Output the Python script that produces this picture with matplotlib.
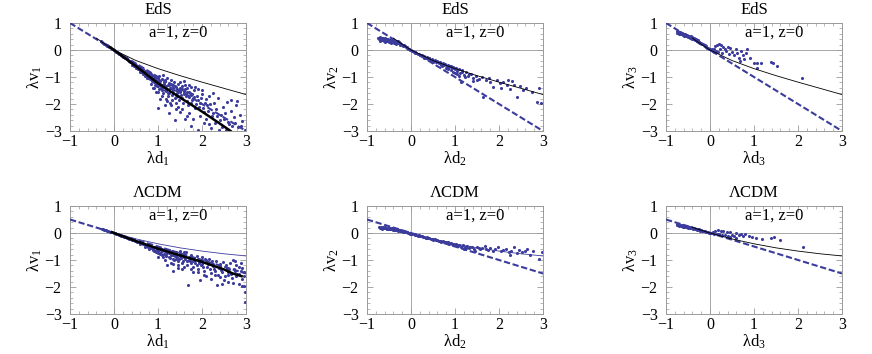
import numpy as np
import matplotlib
matplotlib.use("Agg")
import matplotlib.pyplot as plt
from matplotlib.ticker import MultipleLocator

plt.rcParams['font.family'] = ['Liberation Serif', 'DejaVu Serif']
plt.rcParams['mathtext.fontset'] = 'custom'
plt.rcParams['mathtext.rm'] = 'Liberation Serif'
plt.rcParams['mathtext.it'] = 'Liberation Serif:italic'

# ---------------- data ----------------
titles = ["EdS", "EdS", "EdS", "ΛCDM", "ΛCDM", "ΛCDM"]
xlabels = ["λd$_1$", "λd$_2$", "λd$_3$", "λd$_1$", "λd$_2$", "λd$_3$"]
ylabels = ["λv$_1$", "λv$_2$", "λv$_3$", "λv$_1$", "λv$_2$", "λv$_3$"]
annotation = "a=1, z=0"
ticks = [-1, 0, 1, 2, 3]
yticks = [-3, -2, -1, 0, 1]

dash_x = [-1, 3]
eds_dash_y = [1, -3]
lcdm_dash_y = [0.5, -1.5]

thin_x = [-0.4, -0.2, 0, 0.5, 1, 1.5, 2, 2.5, 3]
eds_thin_y = [0.44, 0.21, 0, -0.39, -0.69, -0.95, -1.19, -1.42, -1.65]
lcdm_thin_y = [0.21, 0.10, 0, -0.22, -0.40, -0.55, -0.67, -0.77, -0.85]

eds_thick_x = [-0.1, 0, 0.5, 1, 1.5, 2, 2.5, 2.65]
eds_thick_y = [0.11, 0, -0.6, -1.23, -1.76, -2.28, -2.83, -3.0]
lcdm_thick_x = [-0.05, 0, 0.5, 1, 1.5, 2, 2.5, 2.7, 2.9]
lcdm_thick_y = [0.03, 0, -0.30, -0.58, -0.83, -1.07, -1.35, -1.50, -1.60]

eds1 = [
 (-0.30,0.32),(-0.27,0.29),(-0.25,0.27),(-0.23,0.24),(-0.21,0.23),(-0.19,0.20),(-0.17,0.18),(-0.15,0.16),(-0.13,0.14),(-0.11,0.12),(-0.09,0.10),(-0.07,0.07),(-0.05,0.05),(-0.03,0.03),(-0.01,0.01),
 (0.01,-0.01),(0.03,-0.04),(0.05,-0.06),(0.07,-0.08),(0.09,-0.10),(0.11,-0.13),(0.13,-0.15),(0.15,-0.17),(0.17,-0.20),(0.19,-0.22),(0.21,-0.25),(0.23,-0.26),(0.25,-0.30),(0.27,-0.31),(0.29,-0.35),(0.31,-0.36),(0.33,-0.40),(0.35,-0.40),(0.37,-0.45),(0.39,-0.44),(0.41,-0.50),(0.43,-0.49),(0.45,-0.55),(0.47,-0.53),(0.49,-0.60),(0.51,-0.57),(0.53,-0.65),(0.55,-0.61),(0.57,-0.70),(0.59,-0.64),(0.61,-0.76),(0.63,-0.68),(0.65,-0.80),(0.67,-0.72),(0.69,-0.86),(0.71,-0.76),(0.73,-0.90),(0.75,-0.80),(0.77,-0.96),(0.79,-0.84),(0.81,-1.02),(0.83,-0.88),(0.85,-1.08),(0.87,-0.92),(0.89,-1.12),(0.91,-0.96),(0.93,-1.20),(0.95,-1.00),(0.97,-1.25),(0.99,-1.05),(1.01,-1.32),(1.03,-0.98),(1.05,-1.15),(1.07,-1.40),(1.09,-1.08),(1.11,-0.93),(1.13,-1.25),(1.15,-1.50),(1.17,-1.12),(1.19,-1.35),(1.21,-1.02),(1.23,-1.58),(1.25,-1.22),(1.27,-1.42),(1.29,-1.10),(1.31,-1.68),(1.33,-1.30),(1.35,-1.50),(1.37,-1.18),(1.39,-1.78),(1.41,-1.38),(1.43,-1.58),(1.45,-1.25),(1.47,-1.85),(1.49,-1.45),(1.51,-1.18),(1.53,-1.65),(1.55,-1.35),(1.57,-1.95),(1.59,-1.52),(1.61,-1.28),(1.63,-1.72),(1.66,-1.42),(1.69,-2.05),(1.72,-1.60),(1.75,-1.38),(1.78,-1.85),(1.81,-1.50),(1.84,-2.15),(1.88,-1.70),(1.92,-1.45),(1.96,-1.95),(2.00,-1.62),(2.04,-2.30),(2.08,-1.80),(2.12,-2.05),(2.17,-1.70),(2.22,-2.45),(2.27,-1.95),(2.32,-2.20),(2.37,-1.78),(2.42,-2.60),(2.47,-2.10),(2.52,-2.35),(2.57,-1.92),(2.62,-2.75),(2.67,-2.25),(2.72,-2.50),(2.77,-2.05),(2.82,-2.85),(2.87,-2.40),(2.92,-2.62),(2.97,-2.95),(2.80,-1.90),(2.65,-1.85),
 (0.95,-1.55),(1.05,-1.80),(1.15,-2.05),(1.25,-2.35),(1.38,-2.60),(1.50,-2.30),(1.62,-2.55),(1.75,-2.80),(1.90,-2.95),(2.05,-2.70),(2.20,-2.90),(2.38,-2.97),(1.00,-2.15),(1.20,-1.90),(0.88,-1.40),(1.30,-2.05),(1.45,-2.10),(1.70,-2.35),(2.10,-2.55),(2.30,-2.70),(2.55,-2.95),(1.58,-1.15),(1.70,-1.30),(1.85,-1.38),(2.00,-1.48),(2.25,-1.58),
 (0.80,-0.95),(0.85,-1.00),(0.90,-1.05),(0.95,-1.12),(1.00,-1.18),(1.05,-1.25),(1.10,-1.30),(1.15,-1.38),(1.20,-1.45),(1.25,-1.30),(1.30,-1.40),(1.35,-1.60),(1.40,-1.50),(1.45,-1.70),(1.50,-1.55),(1.55,-1.45),(1.60,-1.62),(1.65,-1.55),(1.70,-1.75),(1.75,-1.65),(0.75,-1.05),(0.70,-0.95),(0.65,-0.88),(0.60,-0.82),(1.02,-1.45),(1.12,-1.60),(1.22,-1.70),(1.32,-1.85),(1.42,-1.95),(0.98,-1.35),(1.08,-1.48),
 (0.42,-0.55),(0.46,-0.60),(0.50,-0.66),(0.54,-0.70),(0.58,-0.75),(0.62,-0.80),(0.66,-0.85),(0.70,-0.90),(0.74,-0.97),(0.78,-1.02),(0.82,-1.08),(0.86,-1.15),(0.90,-1.20),(0.94,-1.28),(0.98,-1.20),(1.02,-1.10),(1.06,-1.35),(1.10,-1.42),(1.14,-1.20),(1.18,-1.52),(1.22,-1.30),(1.26,-1.60),(1.30,-1.25),(1.34,-1.42),(1.38,-1.35),(1.42,-1.75),(1.46,-1.52),(1.50,-1.40),(1.54,-1.78),(1.58,-1.60),(1.62,-1.45),(1.66,-1.90),(1.70,-1.55),(1.74,-1.95),(1.78,-1.62),(1.82,-1.75),(1.86,-2.00),(1.90,-1.85),(1.94,-2.10),(1.98,-1.78),(2.02,-2.15),(2.06,-1.95),(2.14,-2.25),(2.18,-2.00),(2.26,-2.35),(2.34,-2.45),(2.44,-2.40),(2.50,-2.55),(2.58,-2.65),(2.68,-2.80),(2.74,-2.70),(2.88,-2.80),(0.85,-1.25),(0.92,-1.40),(1.00,-1.55),(1.10,-1.70),(1.18,-1.80),(1.28,-1.95),(1.40,-2.20),(1.55,-2.20),(1.65,-2.45),(1.80,-2.55),(1.95,-2.45),(2.15,-2.75),(2.45,-2.85)]

eds2 = [
 (-0.75,0.45),(-0.72,0.40),(-0.70,0.47),(-0.68,0.42),(-0.66,0.37),(-0.64,0.44),(-0.62,0.40),(-0.60,0.35),(-0.58,0.43),(-0.56,0.38),(-0.54,0.33),(-0.52,0.41),(-0.50,0.36),(-0.48,0.31),(-0.46,0.40),(-0.44,0.35),(-0.42,0.30),(-0.40,0.38),(-0.38,0.33),(-0.36,0.28),(-0.34,0.35),(-0.32,0.30),(-0.30,0.25),(-0.28,0.31),(-0.26,0.26),(-0.24,0.21),(-0.22,0.24),(-0.20,0.19),(-0.18,0.16),(-0.16,0.17),(-0.14,0.13),(-0.12,0.11),(-0.10,0.10),(-0.08,0.07),(-0.06,0.05),(-0.04,0.04),(-0.02,0.01),(0.00,-0.01),(0.02,-0.05),(0.04,-0.04),(0.06,-0.09),(0.08,-0.07),(0.10,-0.12),(0.12,-0.10),(0.15,-0.16),(0.18,-0.14),(0.21,-0.20),(0.24,-0.18),(0.27,-0.24),(0.30,-0.22),(0.33,-0.28),(0.36,-0.26),(0.39,-0.32),(0.42,-0.30),(0.45,-0.36),(0.48,-0.33),(0.51,-0.40),(0.54,-0.37),(0.57,-0.44),(0.60,-0.41),(0.63,-0.48),(0.66,-0.44),(0.69,-0.52),(0.72,-0.48),(0.75,-0.56),(0.78,-0.52),(0.81,-0.60),(0.84,-0.55),(0.87,-0.64),(0.90,-0.58),(0.93,-0.68),(0.96,-0.62),(0.99,-0.72),(1.02,-0.66),(1.05,-0.78),(1.08,-0.70),(1.12,-0.85),(1.16,-0.75),(1.20,-0.92),(1.25,-0.82),(1.30,-0.98),(1.36,-0.88),(1.42,-1.02),(1.48,-0.95),(1.55,-1.06),(1.62,-1.00),(1.70,-1.12),(1.78,-1.05),(1.87,-1.36),(1.95,-1.10),(2.02,-1.22),(2.10,-1.18),(2.18,-1.30),(2.25,-1.43),(2.30,-1.15),(2.35,-1.28),(2.40,-1.73),(2.48,-1.35),(2.55,-1.50),(2.62,-1.40),(1.64,-1.73),(1.13,-1.20),(0.95,-0.80),(1.40,-1.15),(2.86,-1.91),(2.95,-1.98),(2.90,-1.41),(2.75,-1.55),
 (-0.45,0.25),(-0.35,0.22),(-0.60,0.30),(0.30,-0.30),(0.50,-0.45),(0.70,-0.60),(0.85,-0.70),(1.00,-0.85),(1.10,-0.95),(2.20,-1.10),
 (-0.70,0.35),(-0.66,0.45),(-0.62,0.32),(-0.58,0.38),(-0.54,0.42),(-0.50,0.28),(-0.46,0.33),(-0.42,0.37),(-0.38,0.25),(-0.34,0.28),(-0.30,0.32),(-0.26,0.20),(0.10,-0.08),(0.20,-0.17),(0.25,-0.22),(0.35,-0.30),(0.40,-0.28),(0.55,-0.42),(0.62,-0.45),(0.68,-0.55),(0.74,-0.52),(0.80,-0.65),(0.88,-0.60),(0.92,-0.75),(0.98,-0.68),(1.04,-0.90),(1.15,-0.80),(1.22,-1.00),(1.32,-0.90),(1.50,-1.12),(1.80,-1.18),(2.05,-1.40)]

eds3 = [
 (-0.76,0.70),(-0.74,0.64),(-0.72,0.68),(-0.70,0.60),(-0.68,0.66),(-0.66,0.58),(-0.64,0.63),(-0.62,0.55),(-0.60,0.61),(-0.58,0.53),(-0.56,0.58),(-0.54,0.50),(-0.52,0.56),(-0.50,0.48),(-0.48,0.53),(-0.46,0.45),(-0.44,0.50),(-0.42,0.42),(-0.40,0.47),(-0.38,0.39),(-0.36,0.43),(-0.34,0.36),(-0.32,0.40),(-0.30,0.33),(-0.28,0.36),(-0.26,0.29),(-0.24,0.31),(-0.22,0.26),(-0.20,0.27),(-0.18,0.21),(-0.16,0.22),(-0.14,0.17),(-0.12,0.18),(-0.10,0.13),(-0.08,0.12),(-0.06,0.08),(-0.04,0.07),(-0.02,0.03),(0.00,0.02),(0.02,-0.01),(0.04,0.02),(0.06,-0.04),(0.08,0.05),(0.10,-0.06),(0.12,0.15),(0.14,-0.03),(0.16,0.20),(0.18,-0.08),(0.20,0.22),(0.22,0.05),(0.25,0.18),(0.28,-0.12),(0.30,0.10),(0.33,0.02),(0.36,-0.05),(0.40,0.12),(0.43,-0.15),(0.46,0.06),(0.50,-0.08),(0.54,-0.20),(0.58,0.05),(0.62,-0.12),(0.66,-0.28),(0.70,-0.05),(0.74,-0.18),(0.78,-0.32),(0.81,-0.12),(0.85,0.02),(0.92,-0.30),(1.00,-0.49),(1.07,-0.49),(1.17,-0.49),(1.07,-0.68),(1.39,-0.43),(1.44,-0.50),(1.53,-0.60),(2.10,-1.03),(0.68,-0.40),
 (-0.70,0.66),(-0.65,0.61),(-0.55,0.54),(-0.45,0.47),(-0.35,0.39)]

lcdm1 = [
 (-0.28,0.14),(-0.25,0.13),(-0.22,0.11),(-0.19,0.10),(-0.16,0.08),(-0.13,0.07),(-0.10,0.05),(-0.07,0.04),(-0.04,0.02),(-0.01,0.01),(0.02,-0.01),(0.05,-0.03),(0.08,-0.05),(0.11,-0.06),(0.14,-0.08),(0.17,-0.10),(0.20,-0.11),(0.23,-0.13),(0.26,-0.15),(0.29,-0.17),(0.32,-0.18),(0.35,-0.21),(0.38,-0.22),(0.41,-0.25),(0.44,-0.26),(0.47,-0.29),(0.50,-0.30),(0.53,-0.34),(0.56,-0.33),(0.59,-0.38),(0.62,-0.37),(0.65,-0.42),(0.68,-0.40),(0.71,-0.46),(0.74,-0.44),(0.77,-0.50),(0.80,-0.47),(0.83,-0.54),(0.86,-0.50),(0.89,-0.58),(0.92,-0.53),(0.95,-0.62),(0.98,-0.57),(1.01,-0.68),(1.04,-0.60),(1.07,-0.72),(1.10,-0.58),(1.13,-0.78),(1.16,-0.65),(1.19,-0.85),(1.22,-0.64),(1.25,-0.75),(1.28,-0.92),(1.31,-0.68),(1.34,-0.82),(1.37,-1.00),(1.40,-0.72),(1.43,-0.88),(1.46,-1.05),(1.49,-0.75),(1.52,-0.92),(1.55,-1.12),(1.58,-0.80),(1.61,-0.98),(1.64,-0.72),(1.67,-1.18),(1.70,-0.88),(1.73,-1.05),(1.76,-0.80),(1.79,-1.25),(1.82,-0.95),(1.85,-1.12),(1.88,-0.85),(1.91,-1.32),(1.94,-1.02),(1.97,-1.20),(2.00,-0.90),(2.04,-1.40),(2.08,-1.08),(2.12,-1.25),(2.16,-0.95),(2.20,-1.48),(2.24,-1.15),(2.28,-1.32),(2.32,-1.02),(2.36,-1.55),(2.40,-1.22),(2.44,-1.38),(2.48,-1.08),(2.52,-1.60),(2.56,-1.28),(2.60,-1.45),(2.64,-1.12),(2.68,-1.65),(2.72,-1.35),(2.76,-1.05),(2.80,-1.50),(2.85,-1.25),(2.90,-1.70),(2.95,-1.45),(2.70,-1.00),(2.77,-1.20),(2.83,-1.50),
 (1.20,-1.20),(1.45,-1.30),(1.69,-1.94),(1.95,-1.75),(2.10,-1.60),(2.33,-1.94),(2.70,-1.85),(2.95,-1.95),(2.97,-2.20),(2.98,-2.56),(1.80,-1.45),(2.50,-1.75),(2.85,-1.90),(2.60,-1.80),(2.20,-1.70),(1.55,-1.35),(1.35,-1.15),
 (0.90,-0.65),(1.00,-0.75),(1.10,-0.82),(1.20,-0.72),(1.30,-0.80),(1.40,-0.95),(1.50,-0.85),(1.60,-0.90),(1.70,-1.00),(1.80,-1.05),(1.90,-0.95),(2.00,-1.15),(2.10,-1.00),(0.95,-0.52),(1.05,-0.55),(1.15,-0.60),(1.25,-0.62),(1.50,-0.68),(1.60,-0.70),
 (0.60,-0.42),(0.70,-0.50),(0.80,-0.58),(0.88,-0.62),(0.96,-0.70),(1.04,-0.78),(1.08,-0.66),(1.12,-0.90),(1.18,-0.76),(1.24,-0.88),(1.28,-0.70),(1.33,-0.95),(1.38,-0.85),(1.42,-0.78),(1.47,-0.98),(1.53,-0.82),(1.57,-1.02),(1.62,-0.85),(1.66,-1.05),(1.72,-0.95),(1.76,-1.10),(1.84,-1.00),(1.88,-1.18),(1.93,-1.10),(1.98,-1.00),(2.02,-1.25),(2.06,-0.98),(2.14,-1.15),(2.18,-1.32),(2.22,-1.05),(2.26,-1.22),(2.30,-1.40),(2.38,-1.30),(2.42,-1.15),(2.46,-1.45),(2.54,-1.20),(2.58,-1.55),(2.62,-1.35),(2.66,-1.50),(2.74,-1.40),(2.78,-1.60),(2.88,-1.40),(2.92,-1.30),(2.96,-1.60),(1.00,-0.90),(1.15,-1.00),(1.30,-1.10),(1.45,-1.18),(1.60,-1.25),(1.75,-1.35),(1.90,-1.45),(2.05,-1.55),(2.40,-1.62),(2.30,-1.55),(2.88,-1.10),(2.92,-1.95),(2.45,-1.90),(1.35,-1.40)]

lcdm2 = [
 (-0.72,0.24),(-0.70,0.20),(-0.68,0.23),(-0.66,0.19),(-0.64,0.22),(-0.62,0.18),(-0.60,0.21),(-0.58,0.17),(-0.56,0.20),(-0.54,0.16),(-0.52,0.19),(-0.50,0.15),(-0.48,0.18),(-0.46,0.14),(-0.44,0.17),(-0.42,0.13),(-0.40,0.16),(-0.38,0.12),(-0.36,0.14),(-0.34,0.10),(-0.32,0.13),(-0.30,0.09),(-0.28,0.11),(-0.26,0.08),(-0.24,0.10),(-0.22,0.06),(-0.20,0.08),(-0.18,0.05),(-0.16,0.06),(-0.14,0.03),(-0.12,0.04),(-0.10,0.02),(-0.08,0.02),(-0.06,0.00),(-0.04,0.01),(-0.02,-0.02),(0.00,-0.02),(0.03,-0.04),(0.06,-0.03),(0.09,-0.07),(0.12,-0.06),(0.15,-0.10),(0.18,-0.08),(0.21,-0.12),(0.24,-0.11),(0.27,-0.15),(0.30,-0.13),(0.33,-0.17),(0.36,-0.16),(0.39,-0.20),(0.42,-0.18),(0.45,-0.22),(0.48,-0.21),(0.51,-0.25),(0.54,-0.23),(0.57,-0.27),(0.60,-0.26),(0.63,-0.30),(0.66,-0.28),(0.69,-0.32),(0.72,-0.30),(0.75,-0.35),(0.78,-0.32),(0.81,-0.37),(0.84,-0.35),(0.87,-0.40),(0.90,-0.37),(0.93,-0.42),(0.96,-0.39),(0.99,-0.44),(1.02,-0.41),(1.06,-0.47),(1.10,-0.43),(1.14,-0.50),(1.18,-0.46),(1.22,-0.52),(1.27,-0.48),(1.32,-0.55),(1.38,-0.50),(1.44,-0.58),(1.50,-0.53),(1.56,-0.60),(1.62,-0.55),(1.68,-0.48),(1.74,-0.62),(1.80,-0.56),(1.86,-0.66),(1.92,-0.60),(1.98,-0.52),(2.04,-0.68),(2.10,-0.62),(2.16,-0.58),(2.22,-0.72),(2.28,-0.66),(2.34,-0.52),(2.40,-0.75),(2.46,-0.62),(2.52,-0.70),(2.58,-0.68),(2.64,-0.60),(2.70,-0.82),(2.78,-0.68),(2.90,-0.95),(2.97,-0.72),(2.25,-0.80),(1.45,-0.65),(1.20,-0.58),
 (-0.66,0.16),(-0.60,0.18),(-0.54,0.13),(-0.48,0.15),(-0.42,0.10),(-0.36,0.11),(-0.30,0.12),(0.10,-0.05),(0.20,-0.10),(0.35,-0.18),(0.50,-0.23),(0.65,-0.31),(0.80,-0.34),(0.95,-0.43),(1.05,-0.44),(1.15,-0.48),(1.25,-0.54),(1.35,-0.52),(1.55,-0.56),(1.70,-0.60)]

lcdm3 = [
 (-0.76,0.32),(-0.74,0.28),(-0.72,0.31),(-0.70,0.26),(-0.68,0.30),(-0.66,0.25),(-0.64,0.29),(-0.62,0.24),(-0.60,0.27),(-0.58,0.22),(-0.56,0.26),(-0.54,0.21),(-0.52,0.24),(-0.50,0.19),(-0.48,0.23),(-0.46,0.18),(-0.44,0.21),(-0.42,0.17),(-0.40,0.20),(-0.38,0.15),(-0.36,0.18),(-0.34,0.14),(-0.32,0.16),(-0.30,0.12),(-0.28,0.15),(-0.26,0.11),(-0.24,0.13),(-0.22,0.09),(-0.20,0.11),(-0.18,0.08),(-0.16,0.09),(-0.14,0.06),(-0.12,0.07),(-0.10,0.05),(-0.08,0.05),(-0.06,0.03),(-0.04,0.03),(-0.02,0.01),(0.00,0.01),(0.03,-0.01),(0.06,0.03),(0.09,-0.03),(0.12,0.08),(0.15,-0.04),(0.18,0.10),(0.21,-0.05),(0.24,0.06),(0.27,-0.07),(0.30,0.08),(0.34,-0.08),(0.38,0.02),(0.42,-0.10),(0.46,0.05),(0.50,-0.06),(0.55,-0.12),(0.60,0.00),(0.65,-0.08),(0.70,-0.05),(0.75,-0.12),(0.80,-0.02),(0.88,-0.10),(0.96,-0.15),(1.05,-0.18),(1.18,-0.22),(1.39,-0.20),(1.45,-0.15),(1.58,-0.27),(2.11,-0.50),(0.45,-0.15),(0.58,-0.18)]

# ---------------- drawing ----------------
blue = '#3c3c9c'
fig = plt.figure(figsize=(8.72, 3.54), dpi=100)
lefts = [70/872, 367/872, 666/872]
bottoms = [1 - 131/354, 1 - 314/354]
w, h = 176/872, 108/354

panels = [eds1, eds2, eds3, lcdm1, lcdm2, lcdm3]
for i, pts in enumerate(panels):
    row, col = divmod(i, 3)
    ax = fig.add_axes([lefts[col], bottoms[row], w, h])
    ax.axhline(0, color='#9a9a9a', lw=0.6, zorder=1)
    ax.axvline(0, color='#9a9a9a', lw=0.6, zorder=1)
    p = np.array(pts)
    ax.scatter(p[:, 0], p[:, 1], s=5, color=blue, linewidths=0, zorder=2)
    if row == 0:
        ax.plot(dash_x, eds_dash_y, color=blue, lw=1.5, ls=(0, (3, 1.3)), zorder=3)
        ax.plot(thin_x, eds_thin_y, color='black', lw=0.6, zorder=3)
        if col == 0:
            ax.plot(eds_thick_x, eds_thick_y, color='black', lw=1.8, zorder=4)
    else:
        ax.plot(dash_x, lcdm_dash_y, color=blue, lw=1.5, ls=(0, (3, 1.3)), zorder=3)
        ax.plot(thin_x, lcdm_thin_y, color=(blue if col < 2 else 'black'), lw=0.6, zorder=3)
        if col == 0:
            ax.plot(lcdm_thick_x, lcdm_thick_y, color='black', lw=1.8, zorder=4)
    ax.set_xlim(-1, 3)
    ax.set_ylim(-3, 1)
    ax.set_xticks(ticks)
    ax.set_yticks(yticks)
    ax.xaxis.set_minor_locator(MultipleLocator(0.2))
    ax.yaxis.set_minor_locator(MultipleLocator(0.2))
    ax.tick_params(which='both', direction='in', top=True, right=True,
                   color='#9a9a9a', labelsize=11.5)
    ax.tick_params(which='major', length=4, width=0.6)
    ax.tick_params(which='minor', length=2, width=0.5)
    ax.tick_params(axis='x', pad=2.5)
    ax.tick_params(axis='y', pad=6)
    for s in ax.spines.values():
        s.set_color('#9a9a9a')
        s.set_linewidth(0.7)
    ax.set_title(titles[i], fontsize=12, pad=6.5)
    ax.set_xlabel(xlabels[i], fontsize=12, va='center')
    ax.set_ylabel(ylabels[i], fontsize=12, va='center')
    ax.xaxis.set_label_coords(0.5, -0.26)
    ax.yaxis.set_label_coords(-0.2, 0.5)
    ax.text(1.45, 0.63, annotation, ha='center', va='center', fontsize=12, zorder=5)

fig.savefig('out.png', dpi=100)
